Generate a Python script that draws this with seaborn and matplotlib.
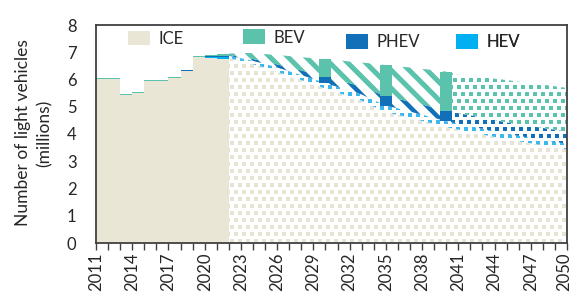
import matplotlib
matplotlib.use("Agg")
import matplotlib.pyplot as plt
import matplotlib.transforms as mtransforms
import seaborn as sns
import numpy as np
import pandas as pd
from matplotlib.patches import Patch
from matplotlib.collections import LineCollection

# ---------------- data (millions of light vehicles) ----------------
hist_years = list(range(2011, 2022))
hist_ice = [6.02, 6.02, 5.44, 5.51, 5.95, 5.95, 6.06, 6.30, 6.83, 6.80, 6.75]
hist_hev = [0.00, 0.00, 0.00, 0.00, 0.00, 0.00, 0.00, 0.00, 0.00, 0.01, 0.07]
hist_phev = [0.00, 0.00, 0.00, 0.00, 0.00, 0.00, 0.01, 0.04, 0.01, 0.05, 0.05]
hist_bev = [0.02, 0.02, 0.02, 0.02, 0.02, 0.02, 0.02, 0.02, 0.03, 0.04, 0.06]

fc_years = list(range(2022, 2051))
fc_ice = [6.79, 6.68, 6.56, 6.43, 6.28, 6.13, 5.98, 5.83, 5.66, 5.52,
          5.37, 5.22, 5.00, 4.80, 4.70, 4.59, 4.48, 4.37, 4.25, 4.16,
          4.07, 3.98, 3.89, 3.80, 3.73, 3.66, 3.58, 3.51, 3.44]
fc_hev = [0.08, 0.10, 0.12, 0.14, 0.16, 0.17, 0.18, 0.19, 0.20, 0.21,
          0.22, 0.23, 0.24, 0.24, 0.24, 0.23, 0.23, 0.22, 0.22, 0.21,
          0.21, 0.21, 0.21, 0.20, 0.20, 0.20, 0.20, 0.20, 0.20]
fc_phev = [0.03, 0.05, 0.07, 0.09, 0.11, 0.14, 0.17, 0.19, 0.22, 0.24,
           0.27, 0.29, 0.32, 0.34, 0.35, 0.36, 0.37, 0.38, 0.39, 0.39,
           0.40, 0.41, 0.41, 0.42, 0.42, 0.43, 0.44, 0.44, 0.45]
fc_bev = [0.05, 0.14, 0.22, 0.27, 0.35, 0.42, 0.49, 0.57, 0.67, 0.74,
          0.80, 0.88, 1.02, 1.15, 1.19, 1.26, 1.31, 1.37, 1.43, 1.41,
          1.44, 1.47, 1.52, 1.56, 1.57, 1.57, 1.59, 1.60, 1.60]

bar_years = [2030, 2035, 2040]
split_year = 2040
tick_years = list(range(2011, 2051, 3))

series = ["ICE", "BEV", "PHEV", "HEV"]
colors = {"ICE": "#EAE6D6", "BEV": "#5BC2AC", "PHEV": "#1170B8", "HEV": "#00B0F0"}
dot_colors = {"ICE": "#E8E4D3", "BEV": "#5BC2AC", "PHEV": "#1170B8", "HEV": "#3DB8EE"}

# ---------------- style ----------------
sns.set_theme(style="white")
plt.rcParams["font.family"] = ["Lato", "DejaVu Sans"]

DPI = 100
fig = plt.figure(figsize=(5.71, 3.0), dpi=DPI)
ax = fig.add_axes([96 / 571, 1 - 243 / 300, 471 / 571, 218 / 300])

hist = pd.DataFrame({"year": hist_years, "ICE": hist_ice, "HEV": hist_hev,
                     "PHEV": hist_phev, "BEV": hist_bev})
fc = pd.DataFrame({"year": fc_years, "ICE": fc_ice, "HEV": fc_hev,
                   "PHEV": fc_phev, "BEV": fc_bev})

stack_order = ["ICE", "HEV", "PHEV", "BEV"]

# historical: solid stepped columns
bottom = pd.Series(0.0, index=hist.index)
for s in stack_order:
    ax.bar(hist["year"], hist[s], bottom=bottom, width=1.0, align="edge",
           color=colors[s], linewidth=0, zorder=2)
    bottom = bottom + hist[s]

# forecast: patterned stacked areas
lo_all = pd.Series(0.0, index=fc.index)
levels = {}
for s in stack_order:
    levels[s] = (lo_all.copy(), lo_all + fc[s])
    lo_all = lo_all + fc[s]

bb = ax.get_window_extent()
ident = mtransforms.IdentityTransform()


def region(mask, s):
    lo, hi = levels[s]
    poly = ax.fill_between(fc["year"][mask], lo[mask], hi[mask],
                           facecolor="white", linewidth=0, zorder=3)
    return poly.get_paths()[0]


def dots(path, color, size_px, phase=0.0):
    px, py = 8.0, 7.0
    pts = []
    row = 0
    y = bb.y0 + 2
    while y < bb.y1 + py:
        x = bb.x0 + phase + (px / 2 if row % 2 else 0)
        while x < bb.x1 + px:
            pts.append((x, y))
            x += px
        y += py
        row += 1
    pts = np.array(pts)
    side_pt = size_px * 72 / DPI
    sc = ax.scatter(pts[:, 0], pts[:, 1], s=side_pt ** 2, marker="s",
                    color=color, linewidths=0, transform=ident, zorder=3.2)
    sc.set_clip_path(path, ax.transData)


def stripes(path, color, width_px, period=18.0):
    h = bb.height
    segs = []
    k = bb.x0 - h - period
    while k < bb.x1 + period:
        segs.append([(k, bb.y1), (k + h, bb.y0)])
        k += period
    lc = LineCollection(segs, colors=color, linewidths=width_px * 72 / DPI,
                        transform=ident, zorder=3.2)
    ax.add_collection(lc, autolim=False)
    lc.set_clip_path(path, ax.transData)


early = fc["year"] <= split_year
late = fc["year"] >= split_year
allf = fc["year"] >= 2022

dots(region(allf, "ICE"), dot_colors["ICE"], 3.3)
dots(region(allf, "HEV"), dot_colors["HEV"], 3.6, phase=2)
stripes(region(early, "PHEV"), dot_colors["PHEV"], 4.5)
dots(region(late, "PHEV"), dot_colors["PHEV"], 4.0, phase=1)
stripes(region(early, "BEV"), dot_colors["BEV"], 5.0)
dots(region(late, "BEV"), dot_colors["BEV"], 4.0, phase=3)

# solid milestone columns
sel = fc[fc["year"].isin(bar_years)]
base = sel["ICE"] + sel["HEV"]
ax.bar(sel["year"], sel["PHEV"], bottom=base, width=1.0,
       color=colors["PHEV"], linewidth=0, zorder=4)
ax.bar(sel["year"], sel["BEV"], bottom=base + sel["PHEV"], width=1.0,
       color=colors["BEV"], linewidth=0, zorder=4)

# ---------------- axes ----------------
ax.set_xlim(2011, 2050)
ax.set_ylim(0, 8)
ax.set_yticks(range(0, 9))
ax.set_xticks(range(2011, 2051))
ax.set_xticklabels([str(y) if y in tick_years else "" for y in range(2011, 2051)],
                   rotation=90)
ax.tick_params(axis="x", direction="out", length=5, width=1, color="#404040",
               labelsize=12, pad=2, bottom=True)
ax.tick_params(axis="y", length=0, labelsize=12, pad=14)
last = ax.get_xticklabels()[-1]
last.set_transform(last.get_transform() +
                   mtransforms.ScaledTranslation(-3 / 100, 0, fig.dpi_scale_trans))
for sp in ax.spines.values():
    sp.set_color("#404040")
    sp.set_linewidth(1.3)
    sp.set_zorder(5)
ax.set_ylabel("Number of light vehicles\n(millions)", fontsize=12.5,
              linespacing=1.45)
ax.yaxis.set_label_coords(-0.092, 0.505)

# legend, one entry per series placed along the top
leg_pos = {"ICE": (0.060, 0.99), "BEV": (0.305, 0.995),
           "PHEV": (0.523, 0.975), "HEV": (0.757, 0.975)}
for s in series:
    lg = ax.legend(handles=[Patch(facecolor=colors[s], edgecolor="none", label=s)],
                   loc="upper left", bbox_to_anchor=leg_pos[s], frameon=False,
                   fontsize=12, handlelength=1.35, handleheight=1.0,
                   handletextpad=0.5, borderaxespad=0, borderpad=0.2)
    lg.set_zorder(6)
    ax.add_artist(lg)

fig.savefig("out.png", dpi=DPI)
